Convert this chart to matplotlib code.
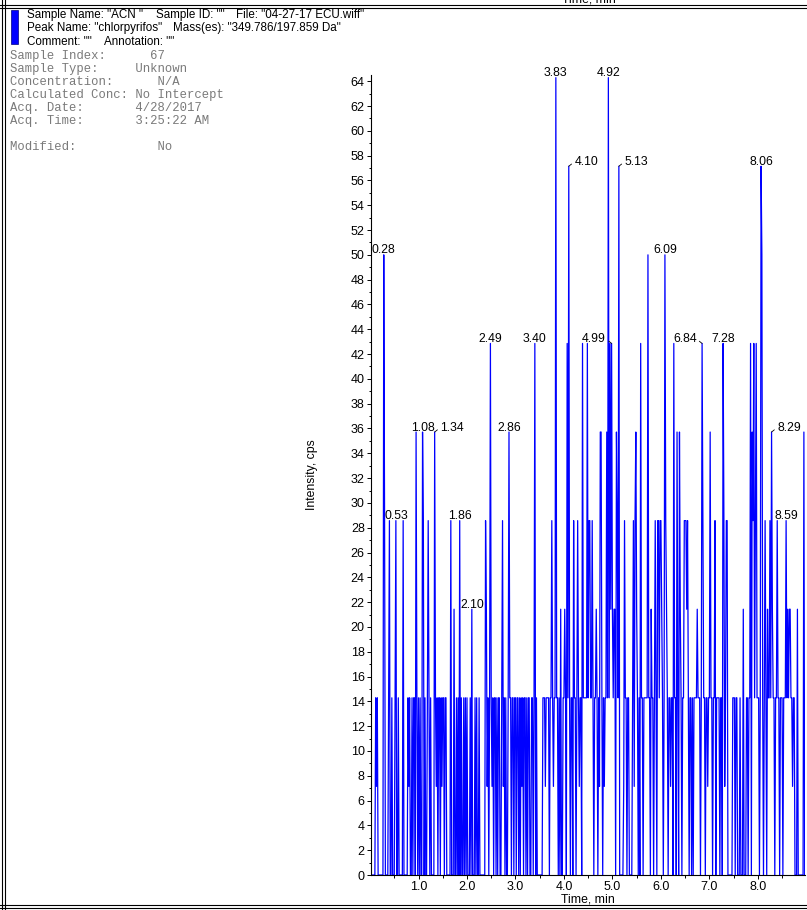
# XIC trace for chlorpyrifos in ACN blank, redrawn from the Analyst report panel.
# Each character in LEVELS_* is the ion count in one 1 s scan; 1 count = 100/14 cps.
import numpy as np
import matplotlib
matplotlib.use('Agg')
import matplotlib.pyplot as plt
from matplotlib.lines import Line2D
from matplotlib.patches import Rectangle
from matplotlib.ticker import MultipleLocator, FormatStrFormatter

W, H = 807, 910
CPS_PER_COUNT = 100 / 14
SCAN_MIN = 1 / 60

# counts per scan, one string per minute (60 scans each)
LEVELS_0 = "0000000212" "0000000740" "0002400200" "0240020000" "0400000212" "0020220520"
LEVELS_1 = "2020054020" "0242020000" "5212022021" "2202200000" "4000300202" "0402002020"
LEVELS_2 = "2000203000" "2020020000" "0004312026" "2120220202" "2002412020" "0252202202"
LEVELS_3 = "2022020212" "0220202200" "2202602000" "0000222122" "2202242122" "9220203002"
LEVELS_4 = "2320628202" "2042202421" "2206222226" "2442242022" "3202155202" "1225292636"
LEVELS_5 = "3233054280" "0000142202" "2000024145" "3202062202" "2222722032" "2024204424"
LEVELS_6 = "4320274320" "2212206220" "5205320224" "4434202202" "0222232220" "2642202212"
LEVELS_7 = "2522022402" "2220220641" "2440000002" "2202200020" "0030002202" "2605462462"
LEVELS_8 = "2202872024" "2032242532" "2022422022" "2022242323" "3221220003" "0000000500"
MINUTES = [LEVELS_0, LEVELS_1, LEVELS_2, LEVELS_3, LEVELS_4,
           LEVELS_5, LEVELS_6, LEVELS_7, LEVELS_8]

# peak labels as printed by the software; side: c = centred, r/l = leader to right/left
peak_labels = ["0.28", "0.53", "1.08", "1.34", "1.86", "2.10", "2.49", "2.86", "3.40",
               "3.83", "4.10", "4.92", "4.99", "5.13", "6.09", "6.84", "7.28", "8.06",
               "8.29", "8.59"]
peak_sides = ["c", "c", "c", "r", "c", "c", "c", "c", "c",
              "c", "r", "c", "l", "r", "c", "l", "c", "c",
              "r", "c"]

header_lines = [
    [(27, 'Sample Name: "ACN "'), (156, 'Sample ID: ""'), (236, 'File: "04-27-17 ECU.wiff"')],
    [(27, 'Peak Name: "chlorpyrifos"'), (173, 'Mass(es): "349.786/197.859 Da"')],
    [(27, 'Comment: ""'), (104, 'Annotation: ""')],
]
info_lines = [
    "Sample Index:      67",
    "Sample Type:     Unknown",
    "Concentration:      N/A",
    "Calculated Conc: No Intercept",
    "Acq. Date:       4/28/2017",
    "Acq. Time:       3:25:22 AM",
    "",
    "Modified:           No",
]

for row in MINUTES:
    assert len(row) == 60
t = np.concatenate([m + np.arange(60) * SCAN_MIN for m in range(len(MINUTES))])
y = np.array([int(c) for row in MINUTES for c in row]) * CPS_PER_COUNT

plt.rcParams.update({"font.family": ["Liberation Sans", "DejaVu Sans"], "font.size": 9})

def fx(px): return px / W
def fy(py): return 1 - py / H

fig = plt.figure(figsize=(W / 100, H / 100), dpi=100)
ax = fig.add_axes([fx(371), fy(875), (805 - 371) / W, 800 / H])
ax.plot(t, y, color="#0000ff", lw=0.9)
ax.set_xlim(0.02, 8.973)
ax.set_ylim(0, 64.5)
for s in ("top", "right"):
    ax.spines[s].set_visible(False)
for s in ("left", "bottom"):
    ax.spines[s].set_linewidth(0.8)
ax.yaxis.set_major_locator(MultipleLocator(2))
ax.yaxis.set_minor_locator(MultipleLocator(1))
ax.xaxis.set_major_locator(MultipleLocator(1))
ax.xaxis.set_minor_locator(MultipleLocator(0.5))
ax.xaxis.set_major_formatter(FormatStrFormatter("%.1f"))
ax.tick_params(which="major", length=3, width=0.7, pad=1.5, labelsize=9)
ax.tick_params(which="minor", length=1.8, width=0.7)
ax.set_xlabel("Time, min", fontsize=8.8, labelpad=0.5)
ax.set_ylabel("Intensity, cps", fontsize=8.8)
ax.yaxis.set_label_coords((318 - 371) / 434, 0.5)

# peak labels at the local maximum nearest the printed time
for lab, side in zip(peak_labels, peak_sides):
    tl = float(lab)
    win = np.where(np.abs(t - tl) <= 0.021)[0]
    i = win[np.argmax(y[win])]
    if side == "c":
        ax.annotate(lab, (t[i], y[i]), xytext=(0, 3.2), textcoords="offset points",
                    ha="center", va="center", fontsize=8.8)
    else:
        dx = 4 if side == "r" else -4
        ax.annotate(lab, (t[i], y[i]), xytext=(dx, 3.2), textcoords="offset points",
                    ha="left" if side == "r" else "right", va="center", fontsize=8.8,
                    arrowprops=dict(arrowstyle="-", lw=0.6, color="k", shrinkA=0, shrinkB=0,
                                    relpos=(0, 0.5) if side == "r" else (1, 0.5)))

# report frame: double rules on the left, top and bottom
for xa in (1.5, 4.5):
    fig.add_artist(Line2D([fx(xa), fx(xa)], [0, 1], lw=0.8, color="k"))
for ya in (5, 8, 905, 908):
    fig.add_artist(Line2D([fx(0), fx(W)], [fy(ya), fy(ya)], lw=0.8, color="k"))
# x label of the panel above, cut by the page edge
fig.text(fx(589), fy(-1), "Time, min", ha="center", va="center", fontsize=8.8)

fig.add_artist(Rectangle((fx(11), fy(44)), 7 / W, 34 / H, transform=fig.transFigure,
                         facecolor="#0000ff", edgecolor="#000080", lw=0.5))
for k, parts in enumerate(header_lines):
    for x0, txt in parts:
        fig.text(fx(x0), fy(15 + 13.5 * k), txt, ha="left", va="center", fontsize=8.4)
for k, txt in enumerate(info_lines):
    fig.text(fx(10), fy(56 + 13 * k), txt, ha="left", va="center", fontsize=8.85,
             family="Liberation Mono", color="#7a7a7a")

fig.savefig("out.png", dpi=100)
